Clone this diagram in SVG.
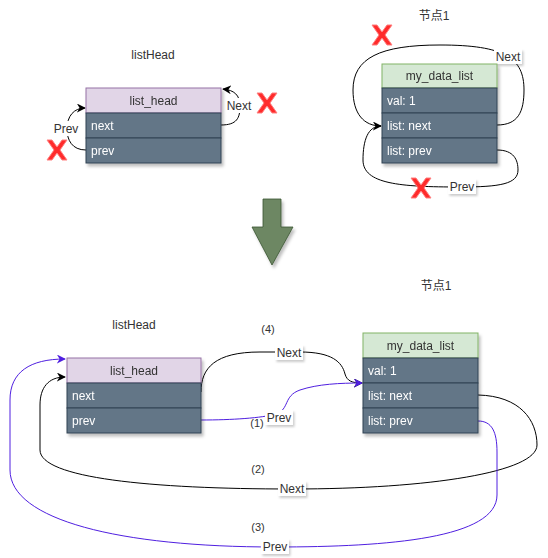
<svg xmlns="http://www.w3.org/2000/svg" width="548" height="558" viewBox="0 0 548 558">
<defs>
<filter id="sh" x="-10%" y="-10%" width="130%" height="140%">
<feDropShadow dx="2" dy="3" stdDeviation="1.5" flood-color="#000" flood-opacity="0.25"/>
</filter>
<filter id="lsh" x="-20%" y="-20%" width="150%" height="170%">
<feDropShadow dx="1.5" dy="2" stdDeviation="1" flood-color="#000" flood-opacity="0.2"/>
</filter>
<marker id="ab" viewBox="0 0 10 10" refX="9" refY="5" markerWidth="9" markerHeight="9" markerUnits="userSpaceOnUse" orient="auto">
<path d="M0,0 L10,5 L0,10 L3,5 Z" fill="#000"/>
</marker>
<marker id="ap" viewBox="0 0 10 10" refX="9" refY="5" markerWidth="9" markerHeight="9" markerUnits="userSpaceOnUse" orient="auto">
<path d="M0,0 L10,5 L0,10 L3,5 Z" fill="#4f1fe0"/>
</marker>
</defs>
<style>
text{font-family:"Liberation Sans",Arial,"Noto Sans CJK SC",sans-serif;}
.t{font-size:12px;fill:#333;text-anchor:middle;}
.hp{fill:#e1d5e7;stroke:#9673a6;}
.hg{fill:#d5e8d4;stroke:#82b366;}
.row{fill:#647687;stroke:#314354;}
.ht{font-size:12px;fill:#333;text-anchor:middle;}
.rt{font-size:12px;fill:#fff;}
.e{fill:none;stroke:#000;stroke-width:1;}
.ep{fill:none;stroke:#4f1fe0;stroke-width:1;}
.lb{fill:#fff;}
.lt{font-size:12px;fill:#333;text-anchor:middle;}
.nt{font-size:11px;fill:#333;text-anchor:middle;}
.x{fill:#ff2b2b;stroke:#ff8080;stroke-width:1;}
</style>

<g id="connectors">
<path class="e" d="M221,125 C237,125 240,118 240,106 C240,95 234,90 223,89" marker-end="url(#ab)"/>
<path class="e" d="M86,150 C72,150 67,140 67,129 C67,116 74,108 85,108" marker-end="url(#ab)"/>
<path class="e" d="M497,125 C518,125 524,112 524,90 C524,58 505,45 440,45 C380,45 353,58 353,90 C353,114 364,126 381,126" marker-end="url(#ab)"/>
<path class="e" d="M497,150 C514,150 518,160 518,170 C518,184 500,187 460,187 C400,187 363,184 363,160 C363,140 368,126 381,126"/>

<path class="e" d="M201,392 C201,368 215,352 260,352 L300,352 C332,352 342,362 345,374 C347,381 352,383 362,383" marker-end="url(#ab)"/>
<path class="ep" d="M201,420 C232,420 262,418 276,414 C290,409 283,396 300,390 C318,384 340,383 362,383" marker-end="url(#ap)"/>
<path class="e" d="M478,395 C520,396 537,420 537,445 C537,472 430,489 292,489 C150,489 40,478 40,450 L40,405 C40,388 48,377 65,377" marker-end="url(#ab)"/>
<path class="ep" d="M478,421 C492,421 497,432 497,452 L497,495 C497,538 390,547 275,547 C120,547 10,520 10,470 L10,400 C10,372 30,359 65,359" marker-end="url(#ap)"/>

<rect class="lb" x="225" y="98" width="28" height="15"/>
<text class="lt" x="239" y="110">Next</text>
<rect class="lb" x="52" y="121" width="28" height="15"/>
<text class="lt" x="66" y="133">Prev</text>
<rect class="lb" x="494" y="49" width="28" height="15" filter="url(#lsh)"/>
<text class="lt" x="508" y="61">Next</text>
<rect class="lb" x="448" y="179" width="28" height="15" filter="url(#lsh)"/>
<text class="lt" x="462" y="191">Prev</text>

<rect class="lb" x="275" y="345" width="28" height="15" filter="url(#lsh)"/>
<text class="lt" x="289" y="357">Next</text>
<text class="nt" x="268" y="333">(4)</text>
<rect class="lb" x="265" y="410" width="28" height="15" filter="url(#lsh)"/>
<text class="lt" x="279" y="422">Prev</text>
<text class="nt" x="257" y="427">(1)</text>
<rect class="lb" x="278" y="481" width="28" height="15" filter="url(#lsh)"/>
<text class="lt" x="292" y="493">Next</text>
<text class="nt" x="258" y="473">(2)</text>
<rect class="lb" x="261" y="539" width="28" height="15" filter="url(#lsh)"/>
<text class="lt" x="275" y="551">Prev</text>
<text class="nt" x="258" y="531">(3)</text>
</g>

<g id="title-listHead-top"><text class="t" x="153" y="59">listHead</text></g>
<g id="title-node1-top"><text class="t" x="434" y="20">节点1</text></g>
<g id="title-listHead-bottom"><text class="t" x="134" y="329">listHead</text></g>
<g id="title-node1-bottom"><text class="t" x="436" y="290">节点1</text></g>

<g id="listhead-top" filter="url(#sh)">
<rect class="hp" x="86" y="88" width="135" height="25"/>
<text class="ht" x="153.5" y="105">list_head</text>
<rect class="row" x="86" y="113" width="135" height="25"/>
<text class="rt" x="91" y="130">next</text>
<rect class="row" x="86" y="138" width="135" height="25"/>
<text class="rt" x="91" y="155">prev</text>
</g>

<g id="node1-top" filter="url(#sh)">
<rect class="hg" x="382" y="64" width="115" height="24"/>
<text class="ht" x="439.5" y="80">my_data_list</text>
<rect class="row" x="382" y="88" width="115" height="25"/>
<text class="rt" x="387" y="105">val: 1</text>
<rect class="row" x="382" y="113" width="115" height="25"/>
<text class="rt" x="387" y="130">list: next</text>
<rect class="row" x="382" y="138" width="115" height="25"/>
<text class="rt" x="387" y="155">list: prev</text>
</g>

<g id="listhead-bottom" filter="url(#sh)">
<rect class="hp" x="67" y="358" width="134" height="25"/>
<text class="ht" x="134" y="375">list_head</text>
<rect class="row" x="67" y="383" width="134" height="25"/>
<text class="rt" x="72" y="400">next</text>
<rect class="row" x="67" y="408" width="134" height="25"/>
<text class="rt" x="72" y="425">prev</text>
</g>

<g id="node1-bottom" filter="url(#sh)">
<rect class="hg" x="363" y="333" width="115" height="25"/>
<text class="ht" x="420.5" y="350">my_data_list</text>
<rect class="row" x="363" y="358" width="115" height="25"/>
<text class="rt" x="368" y="375">val: 1</text>
<rect class="row" x="363" y="383" width="115" height="25"/>
<text class="rt" x="368" y="400">list: next</text>
<rect class="row" x="363" y="408" width="115" height="25"/>
<text class="rt" x="368" y="425">list: prev</text>
</g>

<g id="down-arrow" filter="url(#sh)">
<polygon points="263,199 281,199 281,227 293,227 272,265 252,227 263,227" fill="#6d8764" stroke="#3a5431" stroke-width="0.8"/>
</g>

<g id="cross-marks">
<polygon class="x" transform="translate(267,103)" points="-10,-10 -5,-10 0,-3 5,-10 10,-10 3,0 10,10 5,10 0,3 -5,10 -10,10 -3,0"/>
<polygon class="x" transform="translate(57,150)" points="-10,-10 -5,-10 0,-3 5,-10 10,-10 3,0 10,10 5,10 0,3 -5,10 -10,10 -3,0"/>
<polygon class="x" transform="translate(382,35)" points="-10,-10 -5,-10 0,-3 5,-10 10,-10 3,0 10,10 5,10 0,3 -5,10 -10,10 -3,0"/>
<polygon class="x" transform="translate(421,188)" points="-10,-10 -5,-10 0,-3 5,-10 10,-10 3,0 10,10 5,10 0,3 -5,10 -10,10 -3,0"/>
</g>
</svg>
